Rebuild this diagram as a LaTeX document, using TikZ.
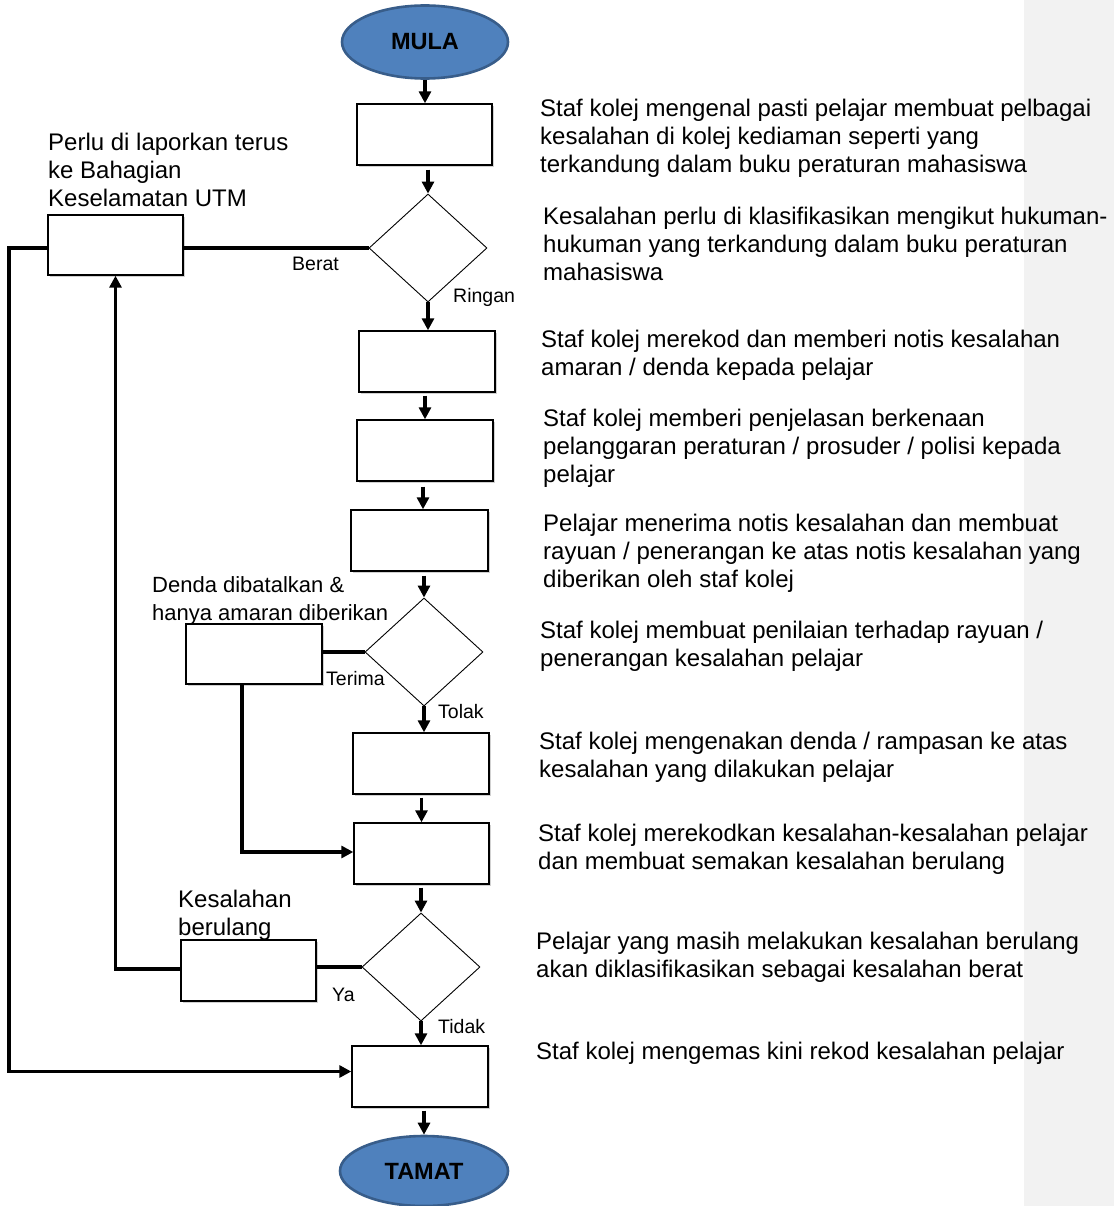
\documentclass[tikz,border=0pt]{standalone}
\usepackage{fontspec}
\setmainfont{Liberation Sans}
\usetikzlibrary{shapes.geometric,arrows.meta,shadows}
\definecolor{capfill}{HTML}{4F81BD}
\definecolor{capline}{HTML}{385D8A}
\definecolor{sidegray}{HTML}{F2F2F2}

\begin{document}
\begin{tikzpicture}[x=1pt,y=-1pt,
  procbox/.style={draw=black, line width=1.4pt, fill=white, inner sep=0pt,
    minimum width=136pt, minimum height=61pt,
    drop shadow={shadow xshift=2pt, shadow yshift=-2pt, opacity=0.3, fill=black!60}},
  decision/.style={diamond, draw=black, line width=0.9pt, fill=white, inner sep=0pt,
    minimum width=118pt, minimum height=108pt},
  terminal/.style={ellipse, draw=capline, line width=2.6pt, fill=capfill, inner sep=0pt,
    font=\fontsize{23.5}{28}\selectfont\bfseries},
  flow/.style={line width=3.4pt, -{Triangle[length=12pt,width=12pt]}},
  link/.style={line width=3.4pt},
  % multi-line notes are placed by the baseline of their last line
  note/.style={anchor=base west, inner sep=0pt, align=left, font=\fontsize{24}{28}\selectfont},
  tag/.style={anchor=base west, inner sep=0pt, font=\fontsize{19.5}{23}\selectfont},
]
\useasboundingbox (0,0) rectangle (1114,1206);
\fill[sidegray] (1024,0) rectangle (1114,1206);

% terminals
\node[terminal, minimum width=166pt, minimum height=73pt] (mula) at (425,42) {MULA};
\node[terminal, minimum width=168pt, minimum height=70pt] (tamat) at (424,1171) {TAMAT};

% process steps down the main column
\node[procbox, minimum width=135pt] (b1) at (424.5,134.5) {};
\node[decision] (d1) at (428,248) {};
\node[procbox, minimum width=135pt, minimum height=60pt] (perlu) at (115.5,245) {};
\node[procbox] (b2) at (427,361.5) {};
\node[procbox] (b3) at (425,450.5) {};
\node[procbox, minimum width=137pt] (b4) at (419.5,540.5) {};
\node[decision] (d2) at (424,652) {};
\node[procbox, minimum height=60pt] (denda) at (254,654) {};
\node[procbox] (b5) at (421,763.5) {};
\node[procbox, minimum width=135pt] (b6) at (421.5,853.5) {};
\node[decision] (d3) at (421,967) {};
\node[procbox, minimum width=135pt] (kes) at (248.5,970.5) {};
\node[procbox] (b7) at (420,1076.5) {};

% main downward flow
\draw[flow] (mula.south) -- (mula.south |- b1.north);
\draw[flow, shorten <=4pt] (b1.south -| d1.north) -- (d1.north);
\draw[flow] (d1.south) -- (d1.south |- b2.north);
\draw[flow, shorten <=3pt] (b2.south -| b3.north) -- (b3.north);
\draw[flow, shorten <=5pt] (b3.south -| 423,0) -- (423,0 |- b4.north);
\draw[flow, shorten <=4pt] (b4.south -| d2.north) -- (d2.north);
\draw[flow] (d2.south) -- (d2.south |- b5.north);
\draw[flow, shorten <=3pt] (b5.south -| b6.north) -- (b6.north);
\draw[flow, shorten <=3pt] (b6.south -| d3.north) -- (d3.north);
\draw[flow] (d3.south) -- (d3.south |- b7.north);
\draw[flow, shorten <=3pt] (b7.south -| tamat.north) -- (tamat.north);

% side branches
\draw[link] (d1.west) -- (d1.west -| perlu.east);
\coordinate (rail) at (9,248);
\draw[flow] (perlu.west |- d1.west) -- (rail) |- ([yshift=5pt]b7.west);

\draw[link] (d2.west) -- (d2.west -| denda.east);
\draw[flow] ([xshift=-12pt]denda.south) |- ([yshift=1.5pt]b6.west);

\draw[link] (d3.west) -- (d3.west -| kes.east);
\draw[flow] ([yshift=1.5pt]kes.west) -| (perlu.south);

% branch labels
\node[tag] (tBerat) at (292,270) {Berat};
\node[tag] (tRingan) at (453,302) {Ringan};
\node[tag] (tTerima) at (326,685) {Terima};
\node[tag] (tTolak) at (438,718) {Tolak};
\node[tag] (tYa) at (332,1001) {Ya};
\node[tag] (tTidak) at (438,1033) {Tidak};

% captions beside side boxes
\node[note] (cPerlu) at (48,207) {Perlu di laporkan terus\\ke Bahagian\\Keselamatan UTM};
\node[note, font=\fontsize{22}{28}\selectfont] (cDenda) at (152,620) {Denda dibatalkan \&\\hanya amaran diberikan};
\node[note] (cKes) at (178,935) {Kesalahan\\berulang};

% step descriptions
\node[note] (n1) at (540,173) {Staf kolej mengenal pasti pelajar membuat pelbagai\\kesalahan di kolej kediaman seperti yang\\terkandung dalam buku peraturan mahasiswa};
\node[note] (n2) at (543,280) {Kesalahan perlu di klasifikasikan mengikut hukuman-\\hukuman yang terkandung dalam buku peraturan\\mahasiswa};
\node[note] (n3) at (541,375) {Staf kolej merekod dan memberi notis kesalahan\\amaran / denda kepada pelajar};
\node[note] (n4) at (543,482) {Staf kolej memberi penjelasan berkenaan\\pelanggaran peraturan / prosuder / polisi kepada\\pelajar};
\node[note] (n5) at (543,587) {Pelajar menerima notis kesalahan dan membuat\\rayuan / penerangan ke atas notis kesalahan yang\\diberikan oleh staf kolej};
\node[note] (n6) at (540,666) {Staf kolej membuat penilaian terhadap rayuan /\\penerangan kesalahan pelajar};
\node[note] (n7) at (539,777) {Staf kolej mengenakan denda / rampasan ke atas\\kesalahan yang dilakukan pelajar};
\node[note] (n8) at (538,869) {Staf kolej merekodkan kesalahan-kesalahan pelajar\\dan membuat semakan kesalahan berulang};
\node[note] (n9) at (536,977) {Pelajar yang masih melakukan kesalahan berulang\\akan diklasifikasikan sebagai kesalahan berat};
\node[note] (n10) at (536,1059) {Staf kolej mengemas kini rekod kesalahan pelajar};
\end{tikzpicture}
\end{document}
